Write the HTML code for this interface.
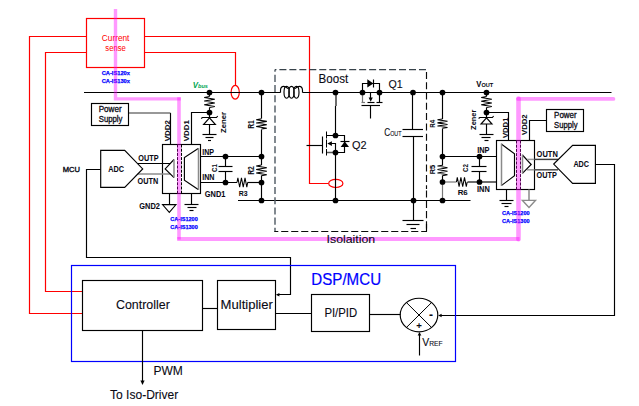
<!DOCTYPE html>
<html lang="en"><head><meta charset="utf-8"><title>Boost PFC isolation diagram</title>
<style>
html,body{margin:0;padding:0;background:#fff;}
body{width:639px;height:406px;overflow:hidden;}
svg{display:block;font-family:"Liberation Sans",sans-serif;}
.k{fill:none;stroke:#000;stroke-width:1.15;}
.g{fill:none;stroke:#8a8a8a;stroke-width:1.5;}
.g2{fill:none;stroke:#777;stroke-width:1.2;}
.r{fill:none;stroke:#f00;stroke-width:1.2;}
.b{fill:none;stroke:#00f;stroke-width:1.2;}
.p{fill:none;stroke:#f0f;stroke-opacity:.4;stroke-width:3.4;stroke-linejoin:round;stroke-linecap:round;}
.d{fill:none;stroke:#38424a;stroke-width:1.4;stroke-dasharray:7.4 2.7;}
.dd{fill:none;stroke:#000;stroke-width:1;stroke-dasharray:3 1.2;}
text{fill:#0a0a14;stroke:#0a0a14;stroke-width:.1;}
.bd{stroke-width:.06;}
.bd{font-weight:bold;}
.m{stroke-width:.3;}
.bl{fill:#00f;font-weight:bold;stroke:#00f;stroke-width:.25;}
.blu{fill:#00f;stroke:#00f;stroke-width:.2;}
.rd{fill:#f00;stroke:none;}
.gr{fill:#00a651;font-weight:bold;font-style:italic;stroke:none;}
</style></head><body>
<svg width="639" height="406" viewBox="0 0 639 406">
<rect width="639" height="406" fill="#fff"/>

<rect class="r" x="86.5" y="18.5" width="58" height="49"/>
<path class="r" d="M86.5,36.5 L29.5,36.5 L29.5,313.5 L82.5,313.5" />
<path class="r" d="M86.5,52.5 L45.5,52.5 L45.5,291.5 L82.5,291.5" />
<path class="r" d="M144.5,36.5 L309.5,36.5 L309.5,183.5 L328.5,183.5" />
<path class="r" d="M144.5,52.5 L235.5,52.5 L235.5,85.5" />
<ellipse class="r" cx="235.2" cy="92.2" rx="4.1" ry="6.9"/>
<ellipse class="r" cx="335.8" cy="183.4" rx="7.1" ry="4.1"/>
<text x="115.6" y="41.2" font-size="8.3" class="rd" textLength="27.5" lengthAdjust="spacingAndGlyphs" text-anchor="middle">Current</text>
<text x="115.6" y="50.6" font-size="8.3" class="rd" textLength="20.5" lengthAdjust="spacingAndGlyphs" text-anchor="middle">sense</text>
<text x="101.7" y="74.9" font-size="6.2" class="bl" textLength="28.2" lengthAdjust="spacingAndGlyphs">CA-IS120x</text>
<text x="101.7" y="83" font-size="6.2" class="bl" textLength="28.2" lengthAdjust="spacingAndGlyphs">CA-IS130x</text>
<path class="k" d="M84,92.5 L280.5,92.5" />
<path class="k" d="M302.5,92.5 L611.5,92.5" />
<path class="k" d="M238,200.5 L470.5,200.5" />
<path class="k" d="M280.5,92.5 L280.5,90.6 C280.5,87.9 281.8,86.4 283.7,86.4 C285.4,86.4 286.9,87.3 287.8,88.8 M302.5,92.5 L302.5,90.6 C302.5,87.9 301.2,86.4 299.3,86.4 C297.6,86.4 296.1,87.3 295.2,88.8"/>
<ellipse class="k" cx="286.6" cy="92.3" rx="2.6" ry="5.9"/>
<ellipse class="k" cx="291.5" cy="92.3" rx="2.6" ry="5.9"/>
<ellipse class="k" cx="296.4" cy="92.3" rx="2.6" ry="5.9"/>
<path class="d" d="M275,69.6 V231.9" style="stroke:#4d5861;stroke-dasharray:7.1 3.1;stroke-dashoffset:5"/>
<path class="d" d="M275,69.6 H426.6" style="stroke-width:1.45;stroke-dasharray:7 2.97;stroke-dashoffset:5.57"/>
<path class="d" d="M426.5,71.9 V189" style="stroke:#0c0c0c;stroke-width:1.15;stroke-dasharray:7 3.3"/>
<path class="d" d="M426.5,190.4 V231.4" style="stroke:#0c0c0c;stroke-width:1.15;stroke-dasharray:7.2 3.1"/>
<path class="d" d="M274.4,231.5 H427" style="stroke:#0c0c0c;stroke-width:1.15;stroke-dasharray:7.1 2.9;stroke-dashoffset:3.2"/>
<path class="k" d="M426.5,224 L426.5,231.5" />
<text x="318.6" y="83.2" font-size="12.2" textLength="29.6" lengthAdjust="spacingAndGlyphs">Boost</text>
<path class="k" d="M209.5,96.6 L204.2,97.5 L214.8,99.3 L204.2,101.1 L214.8,102.9 L204.2,104.7 L214.8,106.5 L209.5,107.4" style="stroke-width:1.02;stroke-linejoin:miter"/>
<path class="k" d="M209.5,92.5 L209.5,96.5" />
<path class="k" d="M209.5,107.5 L209.5,117.5" />
<path class="k" d="M209.5,112.5 L191.5,112.5 L191.5,144.5" />
<path class="k" d="M201.2,118.6 L202.3,117.5 L216.5,117.5 L217.7,116" />
<path class="k" d="M209.5,117.8 L215.4,124.5 L203.6,124.5 Z"/>
<path class="k" d="M209.5,124.5 L209.5,134.5" />
<path class="k" d="M202.5,134.5 L216.5,134.5" />
<path class="k" d="M205.5,137.5 L213.5,137.5" />
<path class="k" d="M208,140.5 L211,140.5" />
<text x="226.2" y="132.9" font-size="7.8" class="bd" textLength="21" lengthAdjust="spacingAndGlyphs" transform="rotate(-90 226.2 132.9)">Zener</text>
<text x="192.8" y="87.7" class="gr" font-size="8.4" textLength="15.2" lengthAdjust="spacingAndGlyphs">V<tspan font-size="6">bus</tspan></text>
<path class="k" d="M261.5,92.5 L261.5,118.5" />
<path class="k" d="M261.5,118.8 L256.2,119.658 L266.8,121.375 L256.2,123.092 L266.8,124.808 L256.2,126.525 L266.8,128.242 L261.5,129.1" style="stroke-width:1.02;stroke-linejoin:miter"/>
<path class="k" d="M261.5,129.5 L261.5,165" />
<path class="k" d="M261.5,165 L256.2,165.892 L266.8,167.675 L256.2,169.458 L266.8,171.242 L256.2,173.025 L266.8,174.808 L261.5,175.7" style="stroke-width:1.02;stroke-linejoin:miter"/>
<path class="k" d="M261.5,175.5 L261.5,200.5" />
<text x="253.7" y="128.7" font-size="8.3" class="bd" textLength="8.4" lengthAdjust="spacingAndGlyphs" transform="rotate(-90 253.7 128.7)">R1</text>
<text x="253.7" y="174.7" font-size="8.3" class="bd" textLength="8.4" lengthAdjust="spacingAndGlyphs" transform="rotate(-90 253.7 174.7)">R2</text>
<path class="k" d="M200.5,156.5 L261.5,156.5" />
<path class="k" d="M200.5,182.5 L237,182.5" />
<path class="k" d="M237,182.5 L237.892,177.9 L239.675,187.1 L241.458,177.9 L243.242,187.1 L245.025,177.9 L246.808,187.1 L247.7,182.5" style="stroke-width:1.02;stroke-linejoin:miter"/>
<path class="k" d="M247.5,182.5 L261.5,182.5" />
<path class="k" d="M225.5,156.5 L225.5,166.5" />
<path class="k" d="M225.5,171.5 L225.5,182.5" />
<path class="k" d="M218.5,166.5 L232.5,166.5" />
<path class="k" d="M218.5,171.5 L232.5,171.5" />
<text x="216.8" y="172" font-size="7.4" class="bd" textLength="7.8" lengthAdjust="spacingAndGlyphs" transform="rotate(-90 216.8 172)">C1</text>
<text x="238.8" y="195.7" font-size="7.6" class="bd" textLength="8.8" lengthAdjust="spacingAndGlyphs">R3</text>
<text x="202.2" y="154.6" font-size="8.2" class="bd" textLength="11.8" lengthAdjust="spacingAndGlyphs">INP</text>
<text x="202.2" y="179.9" font-size="8.2" class="bd" textLength="12.3" lengthAdjust="spacingAndGlyphs">INN</text>
<text x="204.8" y="196.8" font-size="8.2" class="bd" textLength="20.6" lengthAdjust="spacingAndGlyphs">GND1</text>
<rect class="k" x="162.5" y="144.5" width="38" height="49"/>
<path class="k" d="M170.5,113 L170.5,144.5" />
<path class="k" d="M128.5,113 L170.5,113" style="stroke:#333"/>
<rect class="k" x="91.5" y="103.5" width="37" height="22"/>
<text x="110.2" y="111.8" font-size="8.6" class="m" textLength="23" lengthAdjust="spacingAndGlyphs" text-anchor="middle">Power</text>
<text x="110.6" y="122.2" font-size="8.6" class="m" textLength="23.8" lengthAdjust="spacingAndGlyphs" text-anchor="middle">Supply</text>
<text x="169.8" y="141.2" font-size="8" class="bd" textLength="21" lengthAdjust="spacingAndGlyphs" transform="rotate(-90 169.8 141.2)">VDD2</text>
<text x="189.1" y="141.2" font-size="8" class="bd" textLength="21" lengthAdjust="spacingAndGlyphs" transform="rotate(-90 189.1 141.2)">VDD1</text>
<path class="k" d="M137.5,163.5 L170.5,163.5" />
<path class="g2" d="M137.6,173.9 L170.2,173.9" style="stroke:#8c8c8c;stroke-width:1.5"/>
<path class="k" d="M174,159.5 L165.2,168.9 L174,177.7"/>
<path class="g" d="M174,159.5 L174,177.5" />
<path class="k" d="M198.2,148.5 L184.4,157.6 L184.4,180.2 L198.2,189.6"/>
<path class="g" d="M198.5,148 L198.5,190" />
<path class="k" d="M100.7,150.4 L124.7,150.4 L142.7,168.9 L124.7,187.3 L100.7,187.3 Z"/>
<text x="108.3" y="172.3" font-size="8.4" class="bd" textLength="15.8" lengthAdjust="spacingAndGlyphs">ADC</text>
<text x="138.3" y="160.6" font-size="8.2" class="bd" textLength="20.2" lengthAdjust="spacingAndGlyphs">OUTP</text>
<text x="137.6" y="183.9" font-size="8.2" class="bd" textLength="20.6" lengthAdjust="spacingAndGlyphs">OUTN</text>
<text x="62.8" y="171.9" font-size="8" class="m" textLength="17.2" lengthAdjust="spacingAndGlyphs" style="stroke-width:.4">MCU</text>
<path class="k" d="M100.5,169.5 L86.5,169.5 L86.5,257.5 L290.5,257.5 L290.5,294.5 L277,294.5" />
<path d="M275.9,294.7 L279.4,292.9 L279.4,296.5 Z" fill="#000"/>
<path class="k" d="M169.5,193.5 L169.5,204.5" />
<path class="k" d="M162.5,204.6 L176,204.6 L169.3,212.4 Z" style="stroke-width:1.05"/>
<text x="139.3" y="209" font-size="8.2" class="bd" textLength="20.6" lengthAdjust="spacingAndGlyphs">GND2</text>
<path class="k" d="M191.5,193.5 L191.5,204.5" />
<path class="k" d="M184.5,204.5 L198.5,204.5" />
<path class="k" d="M187.5,207.5 L196.5,207.5" />
<path class="k" d="M189.5,210.5 L193.5,210.5" />
<text x="170.3" y="221" font-size="6.1" class="bl" textLength="27.5" lengthAdjust="spacingAndGlyphs">CA-IS1200</text>
<text x="170.3" y="228.8" font-size="6.1" class="bl" textLength="27.5" lengthAdjust="spacingAndGlyphs">CA-IS1300</text>
<path class="k" d="M336,92.4 L336,106" />
<path class="k" d="M335.5,106 L335.5,135.5" />
<path class="k" d="M335.5,152.5 L335.5,200.5" />
<path class="k" d="M306.5,145.5 L322.5,145.5" />
<path class="k" d="M322.5,136.5 L322.5,153.5" />
<path class="k" d="M326.5,131.5 L326.5,138.5" style="stroke-width:1"/>
<path class="k" d="M326.5,139.5 L326.5,147.5" style="stroke-width:1"/>
<path class="k" d="M326.5,149 L326.5,155.5" style="stroke-width:1"/>
<path class="k" d="M326.5,135.5 L344.5,135.5 L344.5,152.5 L326.5,152.5" />
<path class="g2" d="M327,152.5 L333,152.5" style="stroke:#555;stroke-width:1.5"/>
<path class="k" d="M329,143.5 L335.5,143.5 L335.5,152.5" />
<path d="M327.3,143.6 L331.9,141.3 L331.9,145.9 Z" fill="#000"/>
<path class="k" d="M340.5,141.5 L349.5,141.5" />
<path d="M344.8,141.4 L349,147 L340.6,147 Z" fill="#000"/>
<text x="352.1" y="148.9" font-size="11.3" textLength="14.6" lengthAdjust="spacingAndGlyphs">Q2</text>
<path class="k" d="M362.5,92.5 L362.5,83.5 L379.5,83.5 L379.5,92.5" />
<path d="M367.3,79.3 L373.4,83.4 L367.3,87.4 Z" fill="#000"/>
<path class="k" d="M373.5,79.5 L373.5,87.5" />
<path class="g2" d="M362.5,92.5 L362.5,102.5" />
<path class="k" d="M379.5,92.5 L379.5,102.5" />
<path class="g2" d="M361.5,102.5 L365,102.5" />
<path class="k" d="M367.5,102.5 L374.5,102.5" />
<path class="k" d="M376.5,102.5 L382.5,102.5" />
<path class="k" d="M370.5,92.5 L370.5,98" />
<path d="M370.7,101.8 L368.6,97.4 L372.8,97.4 Z" fill="#000"/>
<path class="k" d="M361.5,105.5 L380,105.5" />
<path class="k" d="M370.5,105.5 L370.5,118.5" />
<text x="388.4" y="87.9" font-size="11.3" textLength="14.2" lengthAdjust="spacingAndGlyphs">Q1</text>
<path class="k" d="M412.5,92.5 L412.5,129.5" />
<path class="k" d="M413.5,136.5 L413.5,220.5" />
<path class="k" d="M402.5,129.5 L423,129.5" />
<path class="k" d="M402.5,136.5 L423,136.5" />
<path class="k" d="M402.5,220.5 L423.5,220.5" />
<path class="k" d="M406.5,224.5 L419.5,224.5" />
<path class="k" d="M410.5,228.5 L416,228.5" />
<text x="384.3" y="135.9" font-size="10.6" textLength="17.2" lengthAdjust="spacingAndGlyphs">C<tspan font-size="6.9">OUT</tspan></text>
<path class="k" d="M442.5,92.5 L442.5,119" />
<path class="k" d="M442.5,119 L437.5,119.775 L447.5,121.325 L437.5,122.875 L447.5,124.425 L437.5,125.975 L447.5,127.525 L442.5,128.3" style="stroke-width:1.02;stroke-linejoin:miter"/>
<path class="k" d="M442.5,128.5 L442.5,165.5" />
<path class="k" d="M442.5,165.2 L437.5,166.075 L447.5,167.825 L437.5,169.575 L447.5,171.325 L437.5,173.075 L447.5,174.825 L442.5,175.7" style="stroke-width:1.02;stroke-linejoin:miter"/>
<path class="k" d="M442.5,175.5 L442.5,182" />
<path class="g2" d="M442.5,182 L442.5,200.5" />
<text x="434.8" y="127.7" font-size="6.8" class="bd" textLength="7.8" lengthAdjust="spacingAndGlyphs" transform="rotate(-90 434.8 127.7)">R4</text>
<text x="434.9" y="174.2" font-size="7.8" class="bd" textLength="9.4" lengthAdjust="spacingAndGlyphs" transform="rotate(-90 434.9 174.2)">R5</text>
<path class="k" d="M442.5,156.5 L496.5,156.5" />
<path class="g2" d="M442.5,182 L456.5,182" />
<path class="k" d="M456.4,182 L457.3,177.4 L459.1,186.6 L460.9,177.4 L462.7,186.6 L464.5,177.4 L466.3,186.6 L467.2,182" style="stroke-width:1.02;stroke-linejoin:miter"/>
<path class="k" d="M467.5,182 L496.5,182" />
<path class="k" d="M479.5,156.5 L479.5,166.5" />
<path class="k" d="M479.5,171.5 L479.5,182" />
<path class="k" d="M471.5,166.5 L486.5,166.5" />
<path class="k" d="M471.5,171.5 L486.5,171.5" />
<text x="468" y="172" font-size="7.4" class="bd" textLength="7.8" lengthAdjust="spacingAndGlyphs" transform="rotate(-90 468 172)">C2</text>
<text x="457.7" y="194.5" font-size="7.4" class="bd" textLength="10" lengthAdjust="spacingAndGlyphs">R6</text>
<text x="477.2" y="152.9" font-size="8.2" class="bd" textLength="12.4" lengthAdjust="spacingAndGlyphs">INP</text>
<text x="477" y="192.1" font-size="8.2" class="bd" textLength="12.8" lengthAdjust="spacingAndGlyphs">INN</text>
<path class="k" d="M486.5,92.5 L486.5,96.5" />
<path class="k" d="M486.5,96.6 L481.2,97.5083 L491.8,99.325 L481.2,101.142 L491.8,102.958 L481.2,104.775 L491.8,106.592 L486.5,107.5" style="stroke-width:1.02;stroke-linejoin:miter"/>
<path class="k" d="M486.5,107.5 L486.5,117.5" />
<path class="k" d="M486.5,112.5 L508.5,112.5 L508.5,140.5" />
<path class="k" d="M478.6,118.5 L479.8,117.5 L492.4,117.5 L493.6,116" />
<path class="k" d="M486.5,117.8 L492,124 L481,124 Z"/>
<path class="k" d="M486.5,124 L486.5,134.5" />
<path class="k" d="M479.5,134.5 L493.5,134.5" />
<path class="k" d="M481.5,137.5 L490.5,137.5" />
<path class="k" d="M484.5,140.5 L488.5,140.5" />
<text x="476" y="129.9" font-size="7.8" class="bd" textLength="20.2" lengthAdjust="spacingAndGlyphs" transform="rotate(-90 476 129.9)">Zener</text>
<text x="476.3" y="86.9" font-size="8.6" class="bd" textLength="16.9" lengthAdjust="spacingAndGlyphs">V<tspan font-size="6.2">OUT</tspan></text>
<rect class="k" x="496.5" y="140.5" width="38" height="49"/>
<path class="k" d="M529.5,140.5 L529.5,120.5 L546.5,120.5" />
<rect class="k" x="546.5" y="109.5" width="37" height="22"/>
<text x="565.4" y="117.8" font-size="8.6" class="m" textLength="22.6" lengthAdjust="spacingAndGlyphs" text-anchor="middle">Power</text>
<text x="565.8" y="127.7" font-size="8.6" class="m" textLength="23.4" lengthAdjust="spacingAndGlyphs" text-anchor="middle">Supply</text>
<text x="508.2" y="138" font-size="8" class="bd" textLength="20.4" lengthAdjust="spacingAndGlyphs" transform="rotate(-90 508.2 138)">VDD1</text>
<text x="527" y="134.9" font-size="8" class="bd" textLength="20.4" lengthAdjust="spacingAndGlyphs" transform="rotate(-90 527 134.9)">VDD2</text>
<path class="k" d="M501.3,144 L514.5,153.8 L514.5,175.8 L501.3,185.6"/>
<path class="g" d="M501.5,143.5 L501.5,186" />
<path class="k" d="M522.4,155 L531.2,164.5 L522.4,173.3"/>
<path class="g" d="M522.5,154.5 L522.5,173.5" />
<path class="g" d="M527,159.4 L534.5,159.4" style="stroke:#9a9a9a;stroke-width:1.45"/>
<path class="g" d="M527,169.8 L534.5,169.8" style="stroke:#9a9a9a;stroke-width:1.5"/>
<path class="g" d="M534.5,159.4 L558,159.4" style="stroke:#3c3c3c;stroke-width:1.45"/>
<path class="g" d="M534.5,169.8 L558,169.8" style="stroke:#4a4a4a;stroke-width:1.5"/>
<path class="k" d="M595.4,145.4 L572.6,145.4 L553.7,164.1 L572.6,183.3 L595.4,183.3 Z"/>
<text x="573.4" y="167.3" font-size="8.4" class="bd" textLength="15.6" lengthAdjust="spacingAndGlyphs">ADC</text>
<text x="536.6" y="156.8" font-size="8.2" class="bd" textLength="21.2" lengthAdjust="spacingAndGlyphs">OUTN</text>
<text x="536.6" y="177.8" font-size="8.2" class="bd" textLength="20.2" lengthAdjust="spacingAndGlyphs">OUTP</text>
<path class="k" d="M595.5,164.5 L614.5,164.5 L614.5,315.5 L440,315.5" />
<path d="M438.2,315.5 L441.6,313.8 L441.6,317.2 Z" fill="#000"/>
<path class="k" d="M506.5,189.5 L506.5,200.5" />
<path class="k" d="M499.5,200.5 L513.5,200.5" />
<path class="k" d="M501.5,203.5 L511.5,203.5" />
<path class="k" d="M504.5,206.5 L508.5,206.5" />
<path class="g" d="M529,189.5 L529,200.2" />
<path class="g" d="M522.3,200.3 L535.6,200.3 L529,207.5 Z" style="stroke-width:1.3"/>
<text x="502" y="214.8" font-size="6.1" class="bl" textLength="27.6" lengthAdjust="spacingAndGlyphs">CA-IS1200</text>
<text x="502" y="222.7" font-size="6.1" class="bl" textLength="27.6" lengthAdjust="spacingAndGlyphs">CA-IS1300</text>
<rect class="b" x="71.5" y="265.5" width="384" height="96"/>
<text x="311.3" y="284.7" font-size="15.9" class="blu" textLength="69.8" lengthAdjust="spacingAndGlyphs">DSP/MCU</text>
<rect class="k" x="82.5" y="280.5" width="120" height="50"/>
<text x="116" y="309.1" font-size="12.4" textLength="53.8" lengthAdjust="spacingAndGlyphs">Controller</text>
<rect class="k" x="217.5" y="280.5" width="58" height="49"/>
<text x="220.6" y="309.1" font-size="12.4" textLength="52.3" lengthAdjust="spacingAndGlyphs">Multiplier</text>
<path class="k" d="M202.5,308.5 L217.5,308.5" />
<path class="k" d="M275.5,313.5 L311.5,313.5" />
<rect class="k" x="311.5" y="294.5" width="58" height="37"/>
<text x="324.4" y="317.1" font-size="12.1" textLength="32.8" lengthAdjust="spacingAndGlyphs">PI/PID</text>
<path class="k" d="M369.5,314.5 L400.5,314.5" />
<ellipse class="k" cx="419" cy="315" rx="18.8" ry="16.8"/>
<path class="k" d="M406.4,302.5 L431.6,327.5" style="stroke-width:1"/>
<path class="k" d="M431.6,302.5 L406.4,327.5" style="stroke-width:1"/>
<text x="419" y="328.8" font-size="9.6" class="bd" text-anchor="middle">+</text>
<text x="430.9" y="318.5" font-size="12" class="bd" text-anchor="middle">-</text>
<path class="k" d="M419.5,355.5 L419.5,334" />
<path d="M419.5,332 L417.7,335.6 L421.3,335.6 Z" fill="#000"/>
<text x="422.3" y="346.2" font-size="11.8" textLength="20.4" lengthAdjust="spacingAndGlyphs">V<tspan font-size="7.6">REF</tspan></text>
<path class="k" d="M142.5,330.5 L142.5,382" />
<path d="M142.5,385 L140.4,380.6 L144.6,380.6 Z" fill="#000"/>
<text x="153.5" y="374.6" font-size="12.1" textLength="29.4" lengthAdjust="spacingAndGlyphs">PWM</text>
<text x="110" y="399" font-size="12.3" textLength="68.3" lengthAdjust="spacingAndGlyphs">To Iso-Driver</text>
<circle cx="209.5" cy="92.5" r="2.85" fill="#000"/>
<circle cx="209.5" cy="112.5" r="2.85" fill="#000"/>
<circle cx="261.5" cy="92.5" r="2.85" fill="#000"/>
<circle cx="261.5" cy="156.5" r="2.85" fill="#000"/>
<circle cx="261.5" cy="182.5" r="2.85" fill="#000"/>
<circle cx="261.5" cy="200.5" r="2.85" fill="#000"/>
<circle cx="225.5" cy="156.5" r="2.85" fill="#000"/>
<circle cx="225.5" cy="182.5" r="2.85" fill="#000"/>
<circle cx="335.5" cy="92.5" r="2.85" fill="#000"/>
<circle cx="335.5" cy="135.5" r="2.85" fill="#000"/>
<circle cx="335.5" cy="152.5" r="2.85" fill="#000"/>
<circle cx="335.5" cy="200.5" r="2.85" fill="#000"/>
<circle cx="362.5" cy="92.5" r="2.85" fill="#000"/>
<circle cx="379.5" cy="92.5" r="2.85" fill="#000"/>
<circle cx="413" cy="92.5" r="2.85" fill="#000"/>
<circle cx="413.5" cy="200.5" r="2.85" fill="#000"/>
<circle cx="442.5" cy="92.5" r="2.85" fill="#000"/>
<circle cx="442.5" cy="156.5" r="2.85" fill="#000"/>
<circle cx="442.5" cy="182" r="2.85" fill="#000"/>
<circle cx="442.5" cy="200.5" r="2.85" fill="#000"/>
<circle cx="479.5" cy="156.5" r="2.85" fill="#000"/>
<circle cx="479.5" cy="182" r="2.85" fill="#000"/>
<circle cx="486.5" cy="92.5" r="2.85" fill="#000"/>
<circle cx="486.5" cy="112.5" r="2.85" fill="#000"/>
<path class="dd" d="M177.5,144.5 L177.5,193.5" />
<path class="dd" d="M181.5,144.5 L181.5,193.5" />
<path class="dd" d="M516.5,140.5 L516.5,189.5" />
<path class="dd" d="M520.5,140.5 L520.5,189.5" />
<path class="p" d="M115.5,8.9 L115.5,98.9 L180.8,98.9" style="stroke-width:3.4;stroke-linejoin:miter;stroke-linecap:butt"/>
<path class="p" d="M179,97.2 L179,239.6" style="stroke-width:3.6;stroke-linecap:butt"/>
<path class="p" d="M177.2,238.9 L519.6,238.9" style="stroke-width:4;stroke-linecap:butt"/>
<path class="p" d="M518.5,98.6 L518.5,239.2" style="stroke-width:4.6;stroke-linecap:round"/>
<path class="p" d="M518,98.9 L613.4,98.9" style="stroke-width:3.8;stroke-linecap:round"/>
<text x="326.6" y="243" font-size="11.5" textLength="48.6" lengthAdjust="spacingAndGlyphs">Isolaition</text>
</svg></body></html>
